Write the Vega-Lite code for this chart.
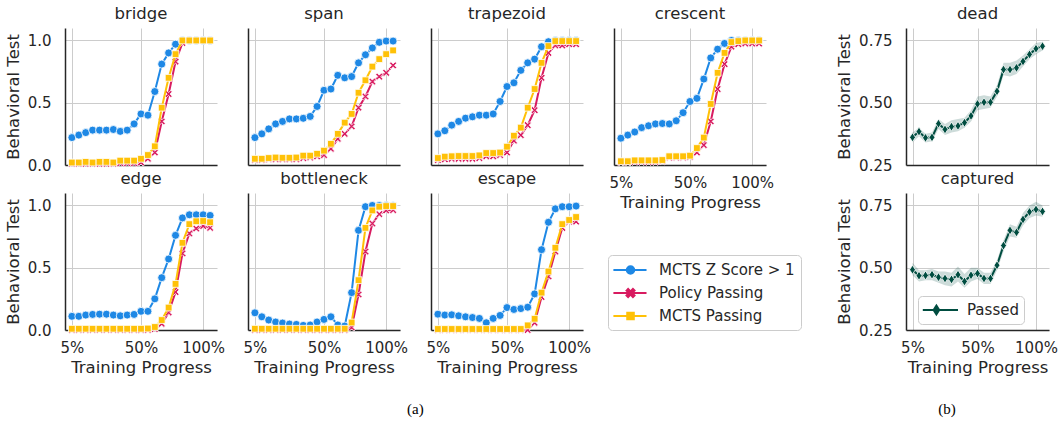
{
"$schema":"https://vega.github.io/schema/vega-lite/v6.json",
"background":"white",
"padding":{"left":5,"top":5,"right":5,"bottom":5},
"config":{
 "font":"DejaVu Sans",
 "view":{"stroke":null},
 "axis":{"domainColor":"#262626","domainWidth":1.5,"gridColor":"#cccccc","gridWidth":1,"grid":true,"ticks":false,"labelFontSize":15,"labelColor":"#262626","labelFont":"DejaVu Sans","titleFont":"DejaVu Sans","titleFontSize":16.5,"titleFontWeight":"normal","titleColor":"#262626","labelFlush":false,"labelOverlap":false},
 "axisX":{"labelPadding":10,"titlePadding":4},
 "axisY":{"labelPadding":14,"titlePadding":6},
 "title":{"font":"DejaVu Sans","fontSize":16.5,"fontWeight":"normal","color":"#262626","offset":6}
},
"datasets":{
"a":[
{"t":"bridge","x":0,"z":0.22,"p":0.01,"m":0.02},
{"t":"bridge","x":1,"z":0.24,"p":0.01,"m":0.02},
{"t":"bridge","x":2,"z":0.26,"p":0.01,"m":0.025},
{"t":"bridge","x":3,"z":0.28,"p":0.01,"m":0.02},
{"t":"bridge","x":4,"z":0.28,"p":0.01,"m":0.025},
{"t":"bridge","x":5,"z":0.28,"p":0.01,"m":0.025},
{"t":"bridge","x":6,"z":0.285,"p":0.01,"m":0.02},
{"t":"bridge","x":7,"z":0.27,"p":0.015,"m":0.035},
{"t":"bridge","x":8,"z":0.28,"p":0.015,"m":0.035},
{"t":"bridge","x":9,"z":0.33,"p":0.015,"m":0.035},
{"t":"bridge","x":10,"z":0.41,"p":0.02,"m":0.05},
{"t":"bridge","x":11,"z":0.40,"p":0.05,"m":0.08},
{"t":"bridge","x":12,"z":0.59,"p":0.10,"m":0.15},
{"t":"bridge","x":13,"z":0.81,"p":0.35,"m":0.46},
{"t":"bridge","x":14,"z":0.90,"p":0.57,"m":0.70},
{"t":"bridge","x":15,"z":0.97,"p":0.83,"m":0.89},
{"t":"bridge","x":16,"z":1.0,"p":0.98,"m":1.0},
{"t":"bridge","x":17,"z":1.0,"p":1.0,"m":1.0},
{"t":"bridge","x":18,"z":1.0,"p":1.0,"m":1.0},
{"t":"bridge","x":19,"z":1.0,"p":1.0,"m":1.0},
{"t":"bridge","x":20,"z":1.0,"p":1.0,"m":1.0},
{"t":"span","x":0,"z":0.22,"p":0.04,"m":0.05},
{"t":"span","x":1,"z":0.25,"p":0.04,"m":0.05},
{"t":"span","x":2,"z":0.29,"p":0.045,"m":0.056},
{"t":"span","x":3,"z":0.33,"p":0.045,"m":0.06},
{"t":"span","x":4,"z":0.35,"p":0.045,"m":0.058},
{"t":"span","x":5,"z":0.37,"p":0.045,"m":0.058},
{"t":"span","x":6,"z":0.37,"p":0.045,"m":0.06},
{"t":"span","x":7,"z":0.375,"p":0.055,"m":0.075},
{"t":"span","x":8,"z":0.39,"p":0.06,"m":0.075},
{"t":"span","x":9,"z":0.47,"p":0.07,"m":0.09},
{"t":"span","x":10,"z":0.60,"p":0.08,"m":0.115},
{"t":"span","x":11,"z":0.61,"p":0.13,"m":0.17},
{"t":"span","x":12,"z":0.72,"p":0.21,"m":0.25},
{"t":"span","x":13,"z":0.70,"p":0.25,"m":0.34},
{"t":"span","x":14,"z":0.71,"p":0.31,"m":0.41},
{"t":"span","x":15,"z":0.82,"p":0.46,"m":0.58},
{"t":"span","x":16,"z":0.885,"p":0.55,"m":0.68},
{"t":"span","x":17,"z":0.94,"p":0.67,"m":0.79},
{"t":"span","x":18,"z":0.985,"p":0.71,"m":0.85},
{"t":"span","x":19,"z":0.995,"p":0.74,"m":0.89},
{"t":"span","x":20,"z":0.995,"p":0.80,"m":0.92},
{"t":"trapezoid","x":0,"z":0.25,"p":0.04,"m":0.056},
{"t":"trapezoid","x":1,"z":0.275,"p":0.045,"m":0.067},
{"t":"trapezoid","x":2,"z":0.32,"p":0.05,"m":0.07},
{"t":"trapezoid","x":3,"z":0.35,"p":0.05,"m":0.072},
{"t":"trapezoid","x":4,"z":0.376,"p":0.05,"m":0.072},
{"t":"trapezoid","x":5,"z":0.387,"p":0.05,"m":0.072},
{"t":"trapezoid","x":6,"z":0.40,"p":0.055,"m":0.077},
{"t":"trapezoid","x":7,"z":0.40,"p":0.07,"m":0.096},
{"t":"trapezoid","x":8,"z":0.41,"p":0.07,"m":0.096},
{"t":"trapezoid","x":9,"z":0.51,"p":0.08,"m":0.10},
{"t":"trapezoid","x":10,"z":0.63,"p":0.10,"m":0.147},
{"t":"trapezoid","x":11,"z":0.66,"p":0.195,"m":0.235},
{"t":"trapezoid","x":12,"z":0.76,"p":0.24,"m":0.30},
{"t":"trapezoid","x":13,"z":0.82,"p":0.32,"m":0.46},
{"t":"trapezoid","x":14,"z":0.85,"p":0.44,"m":0.61},
{"t":"trapezoid","x":15,"z":0.95,"p":0.70,"m":0.82},
{"t":"trapezoid","x":16,"z":0.99,"p":0.90,"m":0.955},
{"t":"trapezoid","x":17,"z":1.0,"p":0.96,"m":0.995},
{"t":"trapezoid","x":18,"z":1.0,"p":0.96,"m":0.995},
{"t":"trapezoid","x":19,"z":1.0,"p":0.97,"m":0.995},
{"t":"trapezoid","x":20,"z":1.0,"p":0.97,"m":0.995},
{"t":"crescent","x":0,"z":0.215,"p":0.02,"m":0.03},
{"t":"crescent","x":1,"z":0.24,"p":0.02,"m":0.03},
{"t":"crescent","x":2,"z":0.265,"p":0.025,"m":0.037},
{"t":"crescent","x":3,"z":0.30,"p":0.025,"m":0.037},
{"t":"crescent","x":4,"z":0.315,"p":0.025,"m":0.037},
{"t":"crescent","x":5,"z":0.33,"p":0.025,"m":0.037},
{"t":"crescent","x":6,"z":0.333,"p":0.03,"m":0.04},
{"t":"crescent","x":7,"z":0.33,"p":0.06,"m":0.07},
{"t":"crescent","x":8,"z":0.355,"p":0.06,"m":0.07},
{"t":"crescent","x":9,"z":0.42,"p":0.06,"m":0.07},
{"t":"crescent","x":10,"z":0.51,"p":0.065,"m":0.075},
{"t":"crescent","x":11,"z":0.535,"p":0.10,"m":0.136},
{"t":"crescent","x":12,"z":0.69,"p":0.16,"m":0.22},
{"t":"crescent","x":13,"z":0.86,"p":0.35,"m":0.49},
{"t":"crescent","x":14,"z":0.93,"p":0.61,"m":0.74},
{"t":"crescent","x":15,"z":0.976,"p":0.81,"m":0.90},
{"t":"crescent","x":16,"z":1.0,"p":0.95,"m":0.987},
{"t":"crescent","x":17,"z":1.0,"p":0.97,"m":0.995},
{"t":"crescent","x":18,"z":1.0,"p":0.975,"m":1.0},
{"t":"crescent","x":19,"z":1.0,"p":0.975,"m":1.0},
{"t":"crescent","x":20,"z":1.0,"p":0.975,"m":1.0},
{"t":"edge","x":0,"z":0.11,"p":0.0,"m":0.01},
{"t":"edge","x":1,"z":0.11,"p":0.0,"m":0.01},
{"t":"edge","x":2,"z":0.12,"p":0.0,"m":0.01},
{"t":"edge","x":3,"z":0.125,"p":0.0,"m":0.01},
{"t":"edge","x":4,"z":0.127,"p":0.0,"m":0.01},
{"t":"edge","x":5,"z":0.127,"p":0.0,"m":0.01},
{"t":"edge","x":6,"z":0.12,"p":0.0,"m":0.01},
{"t":"edge","x":7,"z":0.114,"p":0.0,"m":0.01},
{"t":"edge","x":8,"z":0.12,"p":0.0,"m":0.01},
{"t":"edge","x":9,"z":0.125,"p":0.0,"m":0.01},
{"t":"edge","x":10,"z":0.15,"p":0.0,"m":0.01},
{"t":"edge","x":11,"z":0.15,"p":0.0,"m":0.012},
{"t":"edge","x":12,"z":0.25,"p":0.008,"m":0.024},
{"t":"edge","x":13,"z":0.42,"p":0.05,"m":0.08},
{"t":"edge","x":14,"z":0.57,"p":0.14,"m":0.18},
{"t":"edge","x":15,"z":0.76,"p":0.305,"m":0.37},
{"t":"edge","x":16,"z":0.90,"p":0.615,"m":0.70},
{"t":"edge","x":17,"z":0.925,"p":0.775,"m":0.85},
{"t":"edge","x":18,"z":0.925,"p":0.815,"m":0.873},
{"t":"edge","x":19,"z":0.925,"p":0.835,"m":0.875},
{"t":"edge","x":20,"z":0.92,"p":0.82,"m":0.865},
{"t":"bottleneck","x":0,"z":0.138,"p":0.0,"m":0.01},
{"t":"bottleneck","x":1,"z":0.106,"p":0.0,"m":0.01},
{"t":"bottleneck","x":2,"z":0.08,"p":0.0,"m":0.01},
{"t":"bottleneck","x":3,"z":0.064,"p":0.0,"m":0.01},
{"t":"bottleneck","x":4,"z":0.056,"p":0.0,"m":0.01},
{"t":"bottleneck","x":5,"z":0.048,"p":0.0,"m":0.01},
{"t":"bottleneck","x":6,"z":0.045,"p":0.0,"m":0.01},
{"t":"bottleneck","x":7,"z":0.037,"p":0.0,"m":0.01},
{"t":"bottleneck","x":8,"z":0.04,"p":0.0,"m":0.01},
{"t":"bottleneck","x":9,"z":0.064,"p":0.0,"m":0.01},
{"t":"bottleneck","x":10,"z":0.085,"p":0.0,"m":0.01},
{"t":"bottleneck","x":11,"z":0.106,"p":0.0,"m":0.01},
{"t":"bottleneck","x":12,"z":0.04,"p":0.0,"m":0.01},
{"t":"bottleneck","x":13,"z":0.032,"p":0.0,"m":0.01},
{"t":"bottleneck","x":14,"z":0.30,"p":0.02,"m":0.06},
{"t":"bottleneck","x":15,"z":0.80,"p":0.285,"m":0.40},
{"t":"bottleneck","x":16,"z":0.99,"p":0.63,"m":0.82},
{"t":"bottleneck","x":17,"z":1.0,"p":0.855,"m":0.96},
{"t":"bottleneck","x":18,"z":1.0,"p":0.93,"m":0.99},
{"t":"bottleneck","x":19,"z":1.0,"p":0.96,"m":0.995},
{"t":"bottleneck","x":20,"z":0.997,"p":0.963,"m":0.995},
{"t":"escape","x":0,"z":0.127,"p":0.0,"m":0.008},
{"t":"escape","x":1,"z":0.12,"p":0.0,"m":0.008},
{"t":"escape","x":2,"z":0.122,"p":0.0,"m":0.008},
{"t":"escape","x":3,"z":0.114,"p":0.0,"m":0.008},
{"t":"escape","x":4,"z":0.106,"p":0.0,"m":0.008},
{"t":"escape","x":5,"z":0.10,"p":0.0,"m":0.008},
{"t":"escape","x":6,"z":0.093,"p":0.0,"m":0.008},
{"t":"escape","x":7,"z":0.058,"p":0.0,"m":0.008},
{"t":"escape","x":8,"z":0.093,"p":0.0,"m":0.008},
{"t":"escape","x":9,"z":0.117,"p":0.0,"m":0.008},
{"t":"escape","x":10,"z":0.18,"p":0.0,"m":0.008},
{"t":"escape","x":11,"z":0.165,"p":0.0,"m":0.008},
{"t":"escape","x":12,"z":0.172,"p":0.0,"m":0.008},
{"t":"escape","x":13,"z":0.183,"p":0.0,"m":0.037},
{"t":"escape","x":14,"z":0.29,"p":0.058,"m":0.09},
{"t":"escape","x":15,"z":0.645,"p":0.265,"m":0.30},
{"t":"escape","x":16,"z":0.865,"p":0.43,"m":0.47},
{"t":"escape","x":17,"z":0.973,"p":0.63,"m":0.66},
{"t":"escape","x":18,"z":0.99,"p":0.82,"m":0.85},
{"t":"escape","x":19,"z":0.99,"p":0.87,"m":0.883},
{"t":"escape","x":20,"z":0.995,"p":0.87,"m":0.907}
],
"b":[
{"t":"dead","x":0,"v":0.361,"lo":0.34,"hi":0.38},
{"t":"dead","x":1,"v":0.384,"lo":0.365,"hi":0.40},
{"t":"dead","x":2,"v":0.359,"lo":0.34,"hi":0.375},
{"t":"dead","x":3,"v":0.361,"lo":0.345,"hi":0.38},
{"t":"dead","x":4,"v":0.416,"lo":0.395,"hi":0.435},
{"t":"dead","x":5,"v":0.393,"lo":0.37,"hi":0.415},
{"t":"dead","x":6,"v":0.404,"lo":0.38,"hi":0.43},
{"t":"dead","x":7,"v":0.407,"lo":0.385,"hi":0.435},
{"t":"dead","x":8,"v":0.42,"lo":0.40,"hi":0.44},
{"t":"dead","x":9,"v":0.447,"lo":0.425,"hi":0.47},
{"t":"dead","x":10,"v":0.495,"lo":0.47,"hi":0.525},
{"t":"dead","x":11,"v":0.502,"lo":0.475,"hi":0.53},
{"t":"dead","x":12,"v":0.502,"lo":0.48,"hi":0.525},
{"t":"dead","x":13,"v":0.546,"lo":0.525,"hi":0.57},
{"t":"dead","x":14,"v":0.633,"lo":0.61,"hi":0.66},
{"t":"dead","x":15,"v":0.633,"lo":0.605,"hi":0.66},
{"t":"dead","x":16,"v":0.64,"lo":0.615,"hi":0.67},
{"t":"dead","x":17,"v":0.666,"lo":0.645,"hi":0.69},
{"t":"dead","x":18,"v":0.694,"lo":0.675,"hi":0.715},
{"t":"dead","x":19,"v":0.717,"lo":0.695,"hi":0.74},
{"t":"dead","x":20,"v":0.727,"lo":0.71,"hi":0.745},
{"t":"captured","x":0,"v":0.492,"lo":0.47,"hi":0.52},
{"t":"captured","x":1,"v":0.468,"lo":0.445,"hi":0.49},
{"t":"captured","x":2,"v":0.469,"lo":0.45,"hi":0.49},
{"t":"captured","x":3,"v":0.472,"lo":0.45,"hi":0.495},
{"t":"captured","x":4,"v":0.462,"lo":0.44,"hi":0.485},
{"t":"captured","x":5,"v":0.457,"lo":0.43,"hi":0.485},
{"t":"captured","x":6,"v":0.453,"lo":0.425,"hi":0.48},
{"t":"captured","x":7,"v":0.472,"lo":0.445,"hi":0.505},
{"t":"captured","x":8,"v":0.445,"lo":0.42,"hi":0.475},
{"t":"captured","x":9,"v":0.47,"lo":0.445,"hi":0.5},
{"t":"captured","x":10,"v":0.477,"lo":0.455,"hi":0.5},
{"t":"captured","x":11,"v":0.457,"lo":0.435,"hi":0.48},
{"t":"captured","x":12,"v":0.457,"lo":0.435,"hi":0.48},
{"t":"captured","x":13,"v":0.51,"lo":0.49,"hi":0.53},
{"t":"captured","x":14,"v":0.589,"lo":0.565,"hi":0.61},
{"t":"captured","x":15,"v":0.65,"lo":0.625,"hi":0.675},
{"t":"captured","x":16,"v":0.642,"lo":0.62,"hi":0.665},
{"t":"captured","x":17,"v":0.694,"lo":0.67,"hi":0.72},
{"t":"captured","x":18,"v":0.724,"lo":0.70,"hi":0.75},
{"t":"captured","x":19,"v":0.734,"lo":0.71,"hi":0.765},
{"t":"captured","x":20,"v":0.726,"lo":0.705,"hi":0.75}
],
"series":[{"s":"z"},{"s":"p"},{"s":"m"}]
},
"hconcat":[
{
 "title":{"text":"(a)","orient":"bottom","anchor":"middle","font":"Liberation Serif","fontSize":15,"color":"#000000","offset":26,"dx":12},
 "columns":4,
 "spacing":{"row":28,"column":31},
 "bounds":"flush",
 "resolve":{"scale":{"color":"independent"},"legend":{"color":"independent"}},
 "concat":[
  {"title":"bridge","width":152,"height":137,"data":{"name":"a"},"transform":[{"filter":"datum.t=='bridge'"},{"fold":["z","p","m"],"as":["s","v"]}],
   "encoding":{"x":{"field":"x","type":"quantitative","scale":{"domain":[-1,21],"nice":false,"zero":false},"axis":{"values":[0,10,19],"labels":false,"title":null}},
    "y":{"field":"v","type":"quantitative","scale":{"domain":[0,1.1],"nice":false},"axis":{"values":[0,0.5,1],"format":".1f","title":"Behavioral Test"}},
    "color":{"field":"s","type":"nominal","scale":{"domain":["z","p","m"],"range":["#1E88E5","#D81B60","#FFC107"]},"legend":null}},
   "layer":[
    {"transform":[{"filter":"datum.s=='z'"}],"mark":{"type":"line","strokeWidth":2}},
    {"transform":[{"filter":"datum.s=='z'"}],"mark":{"type":"point","filled":true,"opacity":1,"stroke":"white","strokeWidth":0.8,"shape":"circle","size":64}},
    {"transform":[{"filter":"datum.s=='p'"}],"mark":{"type":"line","strokeWidth":2}},
    {"transform":[{"filter":"datum.s=='p'"}],"mark":{"type":"point","filled":true,"opacity":1,"stroke":"white","strokeWidth":0.8,"shape":"M-1,-0.6L-0.6,-1L0,-0.4L0.6,-1L1,-0.6L0.4,0L1,0.6L0.6,1L0,0.4L-0.6,1L-1,0.6L-0.4,0Z","size":52}},
    {"transform":[{"filter":"datum.s=='m'"}],"mark":{"type":"line","strokeWidth":2}},
    {"transform":[{"filter":"datum.s=='m'"}],"mark":{"type":"point","filled":true,"opacity":1,"stroke":"white","strokeWidth":0.8,"shape":"square","size":46}}]},
  {"title":"span","width":152,"height":137,"data":{"name":"a"},"transform":[{"filter":"datum.t=='span'"},{"fold":["z","p","m"],"as":["s","v"]}],
   "encoding":{"x":{"field":"x","type":"quantitative","scale":{"domain":[-1,21],"nice":false,"zero":false},"axis":{"values":[0,10,19],"labels":false,"title":null}},
    "y":{"field":"v","type":"quantitative","scale":{"domain":[0,1.1],"nice":false},"axis":{"values":[0,0.5,1],"labels":false,"title":null}},
    "color":{"field":"s","type":"nominal","scale":{"domain":["z","p","m"],"range":["#1E88E5","#D81B60","#FFC107"]},"legend":null}},
   "layer":[
    {"transform":[{"filter":"datum.s=='z'"}],"mark":{"type":"line","strokeWidth":2}},
    {"transform":[{"filter":"datum.s=='z'"}],"mark":{"type":"point","filled":true,"opacity":1,"stroke":"white","strokeWidth":0.8,"shape":"circle","size":64}},
    {"transform":[{"filter":"datum.s=='p'"}],"mark":{"type":"line","strokeWidth":2}},
    {"transform":[{"filter":"datum.s=='p'"}],"mark":{"type":"point","filled":true,"opacity":1,"stroke":"white","strokeWidth":0.8,"shape":"M-1,-0.6L-0.6,-1L0,-0.4L0.6,-1L1,-0.6L0.4,0L1,0.6L0.6,1L0,0.4L-0.6,1L-1,0.6L-0.4,0Z","size":52}},
    {"transform":[{"filter":"datum.s=='m'"}],"mark":{"type":"line","strokeWidth":2}},
    {"transform":[{"filter":"datum.s=='m'"}],"mark":{"type":"point","filled":true,"opacity":1,"stroke":"white","strokeWidth":0.8,"shape":"square","size":46}}]},
  {"title":"trapezoid","width":152,"height":137,"data":{"name":"a"},"transform":[{"filter":"datum.t=='trapezoid'"},{"fold":["z","p","m"],"as":["s","v"]}],
   "encoding":{"x":{"field":"x","type":"quantitative","scale":{"domain":[-1,21],"nice":false,"zero":false},"axis":{"values":[0,10,19],"labels":false,"title":null}},
    "y":{"field":"v","type":"quantitative","scale":{"domain":[0,1.1],"nice":false},"axis":{"values":[0,0.5,1],"labels":false,"title":null}},
    "color":{"field":"s","type":"nominal","scale":{"domain":["z","p","m"],"range":["#1E88E5","#D81B60","#FFC107"]},"legend":null}},
   "layer":[
    {"transform":[{"filter":"datum.s=='z'"}],"mark":{"type":"line","strokeWidth":2}},
    {"transform":[{"filter":"datum.s=='z'"}],"mark":{"type":"point","filled":true,"opacity":1,"stroke":"white","strokeWidth":0.8,"shape":"circle","size":64}},
    {"transform":[{"filter":"datum.s=='p'"}],"mark":{"type":"line","strokeWidth":2}},
    {"transform":[{"filter":"datum.s=='p'"}],"mark":{"type":"point","filled":true,"opacity":1,"stroke":"white","strokeWidth":0.8,"shape":"M-1,-0.6L-0.6,-1L0,-0.4L0.6,-1L1,-0.6L0.4,0L1,0.6L0.6,1L0,0.4L-0.6,1L-1,0.6L-0.4,0Z","size":52}},
    {"transform":[{"filter":"datum.s=='m'"}],"mark":{"type":"line","strokeWidth":2}},
    {"transform":[{"filter":"datum.s=='m'"}],"mark":{"type":"point","filled":true,"opacity":1,"stroke":"white","strokeWidth":0.8,"shape":"square","size":46}}]},
  {"title":"crescent","width":152,"height":137,"data":{"name":"a"},"transform":[{"filter":"datum.t=='crescent'"},{"fold":["z","p","m"],"as":["s","v"]}],
   "encoding":{"x":{"field":"x","type":"quantitative","scale":{"domain":[-1,21],"nice":false,"zero":false},"axis":{"values":[0,10,19],"labelExpr":"datum.value==0?'5%':datum.value==10?'50%':'100%'","title":"Training Progress"}},
    "y":{"field":"v","type":"quantitative","scale":{"domain":[0,1.1],"nice":false},"axis":{"values":[0,0.5,1],"labels":false,"title":null}},
    "color":{"field":"s","type":"nominal","scale":{"domain":["z","p","m"],"range":["#1E88E5","#D81B60","#FFC107"]},"legend":null}},
   "layer":[
    {"transform":[{"filter":"datum.s=='z'"}],"mark":{"type":"line","strokeWidth":2}},
    {"transform":[{"filter":"datum.s=='z'"}],"mark":{"type":"point","filled":true,"opacity":1,"stroke":"white","strokeWidth":0.8,"shape":"circle","size":64}},
    {"transform":[{"filter":"datum.s=='p'"}],"mark":{"type":"line","strokeWidth":2}},
    {"transform":[{"filter":"datum.s=='p'"}],"mark":{"type":"point","filled":true,"opacity":1,"stroke":"white","strokeWidth":0.8,"shape":"M-1,-0.6L-0.6,-1L0,-0.4L0.6,-1L1,-0.6L0.4,0L1,0.6L0.6,1L0,0.4L-0.6,1L-1,0.6L-0.4,0Z","size":52}},
    {"transform":[{"filter":"datum.s=='m'"}],"mark":{"type":"line","strokeWidth":2}},
    {"transform":[{"filter":"datum.s=='m'"}],"mark":{"type":"point","filled":true,"opacity":1,"stroke":"white","strokeWidth":0.8,"shape":"square","size":46}}]},
  {"title":"edge","width":152,"height":137,"data":{"name":"a"},"transform":[{"filter":"datum.t=='edge'"},{"fold":["z","p","m"],"as":["s","v"]}],
   "encoding":{"x":{"field":"x","type":"quantitative","scale":{"domain":[-1,21],"nice":false,"zero":false},"axis":{"values":[0,10,19],"labelExpr":"datum.value==0?'5%':datum.value==10?'50%':'100%'","title":"Training Progress"}},
    "y":{"field":"v","type":"quantitative","scale":{"domain":[0,1.1],"nice":false},"axis":{"values":[0,0.5,1],"format":".1f","title":"Behavioral Test"}},
    "color":{"field":"s","type":"nominal","scale":{"domain":["z","p","m"],"range":["#1E88E5","#D81B60","#FFC107"]},"legend":null}},
   "layer":[
    {"transform":[{"filter":"datum.s=='z'"}],"mark":{"type":"line","strokeWidth":2}},
    {"transform":[{"filter":"datum.s=='z'"}],"mark":{"type":"point","filled":true,"opacity":1,"stroke":"white","strokeWidth":0.8,"shape":"circle","size":64}},
    {"transform":[{"filter":"datum.s=='p'"}],"mark":{"type":"line","strokeWidth":2}},
    {"transform":[{"filter":"datum.s=='p'"}],"mark":{"type":"point","filled":true,"opacity":1,"stroke":"white","strokeWidth":0.8,"shape":"M-1,-0.6L-0.6,-1L0,-0.4L0.6,-1L1,-0.6L0.4,0L1,0.6L0.6,1L0,0.4L-0.6,1L-1,0.6L-0.4,0Z","size":52}},
    {"transform":[{"filter":"datum.s=='m'"}],"mark":{"type":"line","strokeWidth":2}},
    {"transform":[{"filter":"datum.s=='m'"}],"mark":{"type":"point","filled":true,"opacity":1,"stroke":"white","strokeWidth":0.8,"shape":"square","size":46}}]},
  {"title":"bottleneck","width":152,"height":137,"data":{"name":"a"},"transform":[{"filter":"datum.t=='bottleneck'"},{"fold":["z","p","m"],"as":["s","v"]}],
   "encoding":{"x":{"field":"x","type":"quantitative","scale":{"domain":[-1,21],"nice":false,"zero":false},"axis":{"values":[0,10,19],"labelExpr":"datum.value==0?'5%':datum.value==10?'50%':'100%'","title":"Training Progress"}},
    "y":{"field":"v","type":"quantitative","scale":{"domain":[0,1.1],"nice":false},"axis":{"values":[0,0.5,1],"labels":false,"title":null}},
    "color":{"field":"s","type":"nominal","scale":{"domain":["z","p","m"],"range":["#1E88E5","#D81B60","#FFC107"]},"legend":null}},
   "layer":[
    {"transform":[{"filter":"datum.s=='z'"}],"mark":{"type":"line","strokeWidth":2}},
    {"transform":[{"filter":"datum.s=='z'"}],"mark":{"type":"point","filled":true,"opacity":1,"stroke":"white","strokeWidth":0.8,"shape":"circle","size":64}},
    {"transform":[{"filter":"datum.s=='p'"}],"mark":{"type":"line","strokeWidth":2}},
    {"transform":[{"filter":"datum.s=='p'"}],"mark":{"type":"point","filled":true,"opacity":1,"stroke":"white","strokeWidth":0.8,"shape":"M-1,-0.6L-0.6,-1L0,-0.4L0.6,-1L1,-0.6L0.4,0L1,0.6L0.6,1L0,0.4L-0.6,1L-1,0.6L-0.4,0Z","size":52}},
    {"transform":[{"filter":"datum.s=='m'"}],"mark":{"type":"line","strokeWidth":2}},
    {"transform":[{"filter":"datum.s=='m'"}],"mark":{"type":"point","filled":true,"opacity":1,"stroke":"white","strokeWidth":0.8,"shape":"square","size":46}}]},
  {"title":"escape","width":152,"height":137,"data":{"name":"a"},"transform":[{"filter":"datum.t=='escape'"},{"fold":["z","p","m"],"as":["s","v"]}],
   "encoding":{"x":{"field":"x","type":"quantitative","scale":{"domain":[-1,21],"nice":false,"zero":false},"axis":{"values":[0,10,19],"labelExpr":"datum.value==0?'5%':datum.value==10?'50%':'100%'","title":"Training Progress"}},
    "y":{"field":"v","type":"quantitative","scale":{"domain":[0,1.1],"nice":false},"axis":{"values":[0,0.5,1],"labels":false,"title":null}},
    "color":{"field":"s","type":"nominal","scale":{"domain":["z","p","m"],"range":["#1E88E5","#D81B60","#FFC107"]},"legend":null}},
   "layer":[
    {"transform":[{"filter":"datum.s=='z'"}],"mark":{"type":"line","strokeWidth":2}},
    {"transform":[{"filter":"datum.s=='z'"}],"mark":{"type":"point","filled":true,"opacity":1,"stroke":"white","strokeWidth":0.8,"shape":"circle","size":64}},
    {"transform":[{"filter":"datum.s=='p'"}],"mark":{"type":"line","strokeWidth":2}},
    {"transform":[{"filter":"datum.s=='p'"}],"mark":{"type":"point","filled":true,"opacity":1,"stroke":"white","strokeWidth":0.8,"shape":"M-1,-0.6L-0.6,-1L0,-0.4L0.6,-1L1,-0.6L0.4,0L1,0.6L0.6,1L0,0.4L-0.6,1L-1,0.6L-0.4,0Z","size":52}},
    {"transform":[{"filter":"datum.s=='m'"}],"mark":{"type":"line","strokeWidth":2}},
    {"transform":[{"filter":"datum.s=='m'"}],"mark":{"type":"point","filled":true,"opacity":1,"stroke":"white","strokeWidth":0.8,"shape":"square","size":46}}]},
  {"width":152,"height":137,"data":{"name":"series"},"mark":{"type":"line","strokeWidth":2,"opacity":0},
   "encoding":{"color":{"field":"s","type":"nominal","scale":{"domain":["z","p","m"],"range":["#1E88E5","#D81B60","#FFC107"]},
     "legend":{"title":null,"orient":"none","legendX":-6,"legendY":62,"labelExpr":"datum.value=='z'?'MCTS Z Score > 1':datum.value=='p'?'Policy Passing':'MCTS Passing'","labelFontSize":15,"labelColor":"#262626","labelFont":"DejaVu Sans","symbolSize":256,"labelOffset":27,"rowPadding":6,"padding":6,"strokeColor":"#cccccc","fillColor":"#ffffff","cornerRadius":4,
      "encode":{"symbols":{"update":{"shape":{"signal":"datum.value=='z'?'M-1.2,0L2.94,0M0.47,0A0.47,0.47,0,1,1,1.41,0A0.47,0.47,0,1,1,0.47,0Z':datum.value=='p'?'M-1.2,0L2.94,0M0.44,-0.3L0.64,-0.5L0.94,-0.2L1.24,-0.5L1.44,-0.3L1.14,0L1.44,0.3L1.24,0.5L0.94,0.2L0.64,0.5L0.44,0.3L0.74,0Z':'M-1.2,0L2.94,0M0.53,-0.41L1.35,-0.41L1.35,0.41L0.53,0.41Z'"},"fill":{"signal":"datum.value=='z'?'#1E88E5':datum.value=='p'?'#D81B60':'#FFC107'"},"stroke":{"signal":"datum.value=='z'?'#1E88E5':datum.value=='p'?'#D81B60':'#FFC107'"},"strokeWidth":{"value":2},"size":{"value":256},"opacity":{"value":1},"fillOpacity":{"value":1},"strokeOpacity":{"value":1}}}}}}}}
 ]
},
{
 "title":{"text":"(b)","orient":"bottom","anchor":"middle","font":"Liberation Serif","fontSize":15,"color":"#000000","offset":26},
 "spacing":28,
 "bounds":"flush",
 "resolve":{"scale":{"color":"independent"},"legend":{"color":"independent"}},
 "vconcat":[
  {"title":"dead","width":143,"height":137,"data":{"name":"b"},"transform":[{"filter":"datum.t=='dead'"}],
   "encoding":{"x":{"field":"x","type":"quantitative","scale":{"domain":[-1,21],"nice":false,"zero":false},"axis":{"values":[0,10,19],"labels":false,"title":null}}},
   "layer":[
    {"mark":{"type":"area","color":"#004D40","opacity":0.2},"encoding":{"y":{"field":"lo","type":"quantitative","title":"Behavioral Test","scale":{"domain":[0.25,0.8],"nice":false,"zero":false},"axis":{"values":[0.25,0.5,0.75],"format":".2f","title":"Behavioral Test"}},"y2":{"field":"hi"}}},
    {"mark":{"type":"line","strokeWidth":2},"encoding":{"y":{"field":"v","type":"quantitative","title":"Behavioral Test"},"color":{"datum":"Passed","type":"nominal","scale":{"range":["#004D40"]},"legend":null}}},
    {"mark":{"type":"point","filled":true,"opacity":1,"stroke":"white","strokeWidth":0.8,"size":81,"shape":"M0,-1L0.65,0L0,1L-0.65,0Z"},"encoding":{"y":{"field":"v","type":"quantitative","title":"Behavioral Test"},"color":{"datum":"Passed","type":"nominal","scale":{"range":["#004D40"]},"legend":null}}}
   ]},
  {"title":"captured","width":143,"height":137,"data":{"name":"b"},"transform":[{"filter":"datum.t=='captured'"}],
   "encoding":{"x":{"field":"x","type":"quantitative","scale":{"domain":[-1,21],"nice":false,"zero":false},"axis":{"values":[0,10,19],"labelExpr":"datum.value==0?'5%':datum.value==10?'50%':'100%'","title":"Training Progress"}}},
   "layer":[
    {"mark":{"type":"area","color":"#004D40","opacity":0.2},"encoding":{"y":{"field":"lo","type":"quantitative","title":"Behavioral Test","scale":{"domain":[0.25,0.8],"nice":false,"zero":false},"axis":{"values":[0.25,0.5,0.75],"format":".2f","title":"Behavioral Test"}},"y2":{"field":"hi"}}},
    {"mark":{"type":"line","strokeWidth":2},"encoding":{"y":{"field":"v","type":"quantitative","title":"Behavioral Test"},"color":{"datum":"Passed","type":"nominal","scale":{"range":["#004D40"]},
      "legend":{"title":null,"orient":"none","legendX":12,"legendY":103,"labelFontSize":15,"labelColor":"#262626","labelFont":"DejaVu Sans","symbolSize":256,"labelOffset":26,"padding":5,"strokeColor":"#cccccc","fillColor":"#ffffff","cornerRadius":4,
       "encode":{"symbols":{"update":{"shape":{"value":"M-1.15,0L3.25,0M0.55,-0.55L0.9,0L0.55,0.55L0.2,0Z"},"fill":{"value":"#004D40"},"stroke":{"value":"#004D40"},"strokeWidth":{"value":2},"size":{"value":256},"opacity":{"value":1},"fillOpacity":{"value":1},"strokeOpacity":{"value":1}}}}}}}},
    {"mark":{"type":"point","filled":true,"opacity":1,"stroke":"white","strokeWidth":0.8,"size":81,"shape":"M0,-1L0.65,0L0,1L-0.65,0Z"},"encoding":{"y":{"field":"v","type":"quantitative","title":"Behavioral Test"},"color":{"datum":"Passed","type":"nominal","scale":{"range":["#004D40"]}}}}
   ]}
 ]
}
],
"spacing":34,
"resolve":{"scale":{"color":"independent"},"legend":{"color":"independent"}}
}
